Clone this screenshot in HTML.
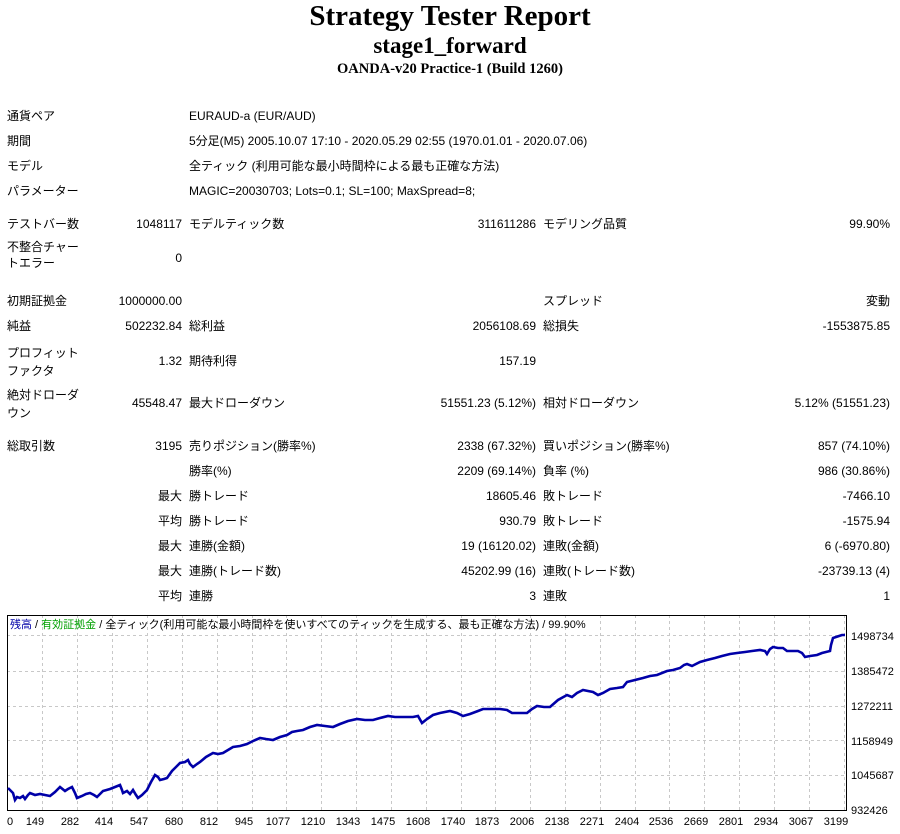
<!DOCTYPE html>
<html><head><meta charset="utf-8"><style>
body{margin:0;width:900px;height:834px;background:#fff;position:relative;overflow:hidden;font-family:"Liberation Sans","Noto Sans CJK JP",sans-serif;font-size:12px;color:#000}
.t{position:absolute;white-space:nowrap;line-height:16px}
.r{text-align:right}
.h{position:absolute;left:0;width:900px;text-align:center;font-family:"Liberation Serif","Noto Serif CJK SC",serif;font-weight:bold}
</style></head><body>
<div class="h" style="top:-1px;font-size:29px;line-height:34px">Strategy Tester Report</div>
<div class="h" style="top:32px;font-size:23px;line-height:28px">stage1_forward</div>
<div class="h" style="top:61px;font-size:14.5px;line-height:17px">OANDA-v20 Practice-1 (Build 1260)</div>

<div class="t" style="left:7px;top:108px">通貨ペア</div><div class="t" style="left:189px;top:108px">EURAUD-a (EUR/AUD)</div>
<div class="t" style="left:7px;top:133px">期間</div><div class="t" style="left:189px;top:133px">5分足(M5) 2005.10.07 17:10 - 2020.05.29 02:55 (1970.01.01 - 2020.07.06)</div>
<div class="t" style="left:7px;top:158px">モデル</div><div class="t" style="left:189px;top:158px">全ティック (利用可能な最小時間枠による最も正確な方法)</div>
<div class="t" style="left:7px;top:183px">パラメーター</div><div class="t" style="left:189px;top:183px">MAGIC=20030703; Lots=0.1; SL=100; MaxSpread=8;</div>

<div class="t" style="left:7px;top:216px">テストバー数</div><div class="t r" style="right:718px;top:216px">1048117</div><div class="t" style="left:189px;top:216px">モデルティック数</div><div class="t r" style="right:364px;top:216px">311611286</div><div class="t" style="left:543px;top:216px">モデリング品質</div><div class="t r" style="right:10px;top:216px">99.90%</div>
<div class="t" style="left:7px;top:239px">不整合チャー<br>トエラー</div><div class="t r" style="right:718px;top:250px">0</div>

<div class="t" style="left:7px;top:293px">初期証拠金</div><div class="t r" style="right:718px;top:293px">1000000.00</div><div class="t" style="left:543px;top:293px">スプレッド</div><div class="t r" style="right:10px;top:293px">変動</div>
<div class="t" style="left:7px;top:318px">純益</div><div class="t r" style="right:718px;top:318px">502232.84</div><div class="t" style="left:189px;top:318px">総利益</div><div class="t r" style="right:364px;top:318px">2056108.69</div><div class="t" style="left:543px;top:318px">総損失</div><div class="t r" style="right:10px;top:318px">-1553875.85</div>
<div class="t" style="left:7px;top:344px;line-height:18px">プロフィット<br>ファクタ</div><div class="t r" style="right:718px;top:353px">1.32</div><div class="t" style="left:189px;top:353px">期待利得</div><div class="t r" style="right:364px;top:353px">157.19</div>
<div class="t" style="left:7px;top:386px;line-height:18px">絶対ドローダ<br>ウン</div><div class="t r" style="right:718px;top:395px">45548.47</div><div class="t" style="left:189px;top:395px">最大ドローダウン</div><div class="t r" style="right:364px;top:395px">51551.23 (5.12%)</div><div class="t" style="left:543px;top:395px">相対ドローダウン</div><div class="t r" style="right:10px;top:395px">5.12% (51551.23)</div>

<div class="t" style="left:7px;top:438px">総取引数</div><div class="t r" style="right:718px;top:438px">3195</div><div class="t" style="left:189px;top:438px">売りポジション(勝率%)</div><div class="t r" style="right:364px;top:438px">2338 (67.32%)</div><div class="t" style="left:543px;top:438px">買いポジション(勝率%)</div><div class="t r" style="right:10px;top:438px">857 (74.10%)</div>
<div class="t" style="left:189px;top:463px">勝率(%)</div><div class="t r" style="right:364px;top:463px">2209 (69.14%)</div><div class="t" style="left:543px;top:463px">負率 (%)</div><div class="t r" style="right:10px;top:463px">986 (30.86%)</div>
<div class="t r" style="right:718px;top:488px">最大</div><div class="t" style="left:189px;top:488px">勝トレード</div><div class="t r" style="right:364px;top:488px">18605.46</div><div class="t" style="left:543px;top:488px">敗トレード</div><div class="t r" style="right:10px;top:488px">-7466.10</div>
<div class="t r" style="right:718px;top:513px">平均</div><div class="t" style="left:189px;top:513px">勝トレード</div><div class="t r" style="right:364px;top:513px">930.79</div><div class="t" style="left:543px;top:513px">敗トレード</div><div class="t r" style="right:10px;top:513px">-1575.94</div>
<div class="t r" style="right:718px;top:538px">最大</div><div class="t" style="left:189px;top:538px">連勝(金額)</div><div class="t r" style="right:364px;top:538px">19 (16120.02)</div><div class="t" style="left:543px;top:538px">連敗(金額)</div><div class="t r" style="right:10px;top:538px">6 (-6970.80)</div>
<div class="t r" style="right:718px;top:563px">最大</div><div class="t" style="left:189px;top:563px">連勝(トレード数)</div><div class="t r" style="right:364px;top:563px">45202.99 (16)</div><div class="t" style="left:543px;top:563px">連敗(トレード数)</div><div class="t r" style="right:10px;top:563px">-23739.13 (4)</div>
<div class="t r" style="right:718px;top:588px">平均</div><div class="t" style="left:189px;top:588px">連勝</div><div class="t r" style="right:364px;top:588px">3</div><div class="t" style="left:543px;top:588px">連敗</div><div class="t r" style="right:10px;top:588px">1</div>

<svg style="position:absolute;left:0;top:0" width="900" height="834" font-family="Liberation Sans, Noto Sans CJK JP, sans-serif" font-size="11">
<g stroke="#c8c8c8" stroke-dasharray="3,3" stroke-width="1">
<line x1="7" y1="635.5" x2="847" y2="635.5"/><line x1="7" y1="671.5" x2="847" y2="671.5"/><line x1="7" y1="706.5" x2="847" y2="706.5"/><line x1="7" y1="740.5" x2="847" y2="740.5"/><line x1="7" y1="775.5" x2="847" y2="775.5"/>
<line x1="42.5" y1="615" x2="42.5" y2="811"/><line x1="77.5" y1="615" x2="77.5" y2="811"/><line x1="112.5" y1="615" x2="112.5" y2="811"/><line x1="147.5" y1="615" x2="147.5" y2="811"/><line x1="182.5" y1="615" x2="182.5" y2="811"/><line x1="217.5" y1="615" x2="217.5" y2="811"/><line x1="252.5" y1="615" x2="252.5" y2="811"/><line x1="286.5" y1="615" x2="286.5" y2="811"/><line x1="321.5" y1="615" x2="321.5" y2="811"/><line x1="356.5" y1="615" x2="356.5" y2="811"/><line x1="391.5" y1="615" x2="391.5" y2="811"/><line x1="426.5" y1="615" x2="426.5" y2="811"/><line x1="461.5" y1="615" x2="461.5" y2="811"/><line x1="495.5" y1="615" x2="495.5" y2="811"/><line x1="530.5" y1="615" x2="530.5" y2="811"/><line x1="565.5" y1="615" x2="565.5" y2="811"/><line x1="600.5" y1="615" x2="600.5" y2="811"/><line x1="635.5" y1="615" x2="635.5" y2="811"/><line x1="669.5" y1="615" x2="669.5" y2="811"/><line x1="704.5" y1="615" x2="704.5" y2="811"/><line x1="739.5" y1="615" x2="739.5" y2="811"/><line x1="774.5" y1="615" x2="774.5" y2="811"/><line x1="809.5" y1="615" x2="809.5" y2="811"/><line x1="844.5" y1="615" x2="844.5" y2="811"/>
</g>
<rect x="7.5" y="615.5" width="839" height="195" fill="none" stroke="#000" stroke-width="1"/>
<polyline fill="none" stroke="#0000a8" stroke-width="2.6" points="8,788 13,793 15,800 17,797 20,798 23,796 25,799 28,795 30,793 35,795 40,794 45,795 50,796 55,792 60,787 65,791 68,789 72,787 75,793 77,798 82,796 86,794 90,793 94,795 97,797 100,794 103,791 110,789 115,787 120,785 122,790 123,793 127,791 130,794 133,790 136,795 138,798 142,795 147,790 151,782 155,775 158,777 160,780 164,779 167,778 172,771 176,767 180,763 185,762 188,760 190,764 193,767 197,764 200,762 206,757 213,753 218,754 223,753 228,750 233,747 240,746 247,744 253,741 260,738 266,739 273,740 280,737 287,735 292,732 297,731 303,730 310,727 317,725 325,726 333,727 340,724 348,721 357,719 365,720 373,720 380,718 388,716 395,717 405,717 413,717 418,716 422,723 427,719 433,715 440,713 450,711 457,713 463,716 470,714 478,711 483,709 490,709 500,709 507,710 512,713 520,713 527,713 532,709 537,706 544,707 550,707 558,700 567,695 572,697 577,693 583,690 588,691 593,692 598,695 603,693 610,689 617,688 623,687 627,682 635,680 643,678 650,676 657,675 667,671 673,670 680,668 684,665 687,664 692,666 700,662 707,660 715,658 722,656 730,654 737,653 745,652 752,651 760,650 765,651 767,654 770,649 773,647 778,648 783,648 787,651 792,651 798,651 802,653 805,657 810,656 817,655 822,653 830,651 831,645 833,638 836,637 839,636 842,635 845,635"/>
<text x="10" y="628"><tspan fill="#0000a8">残高</tspan><tspan> / </tspan><tspan fill="#00a000">有効証拠金</tspan><tspan> / 全ティック(利用可能な最小時間枠を使いすべてのティックを生成する、最も正確な方法) / 99.90%</tspan></text>
<g text-anchor="start">
<text x="851" y="640">1498734</text><text x="851" y="675">1385472</text><text x="851" y="710">1272211</text><text x="851" y="745">1158949</text><text x="851" y="779">1045687</text><text x="851" y="814">932426</text>
</g>
<g text-anchor="middle">
<text x="10" y="825">0</text><text x="35" y="825">149</text><text x="70" y="825">282</text><text x="104" y="825">414</text><text x="139" y="825">547</text><text x="174" y="825">680</text><text x="209" y="825">812</text><text x="244" y="825">945</text><text x="278" y="825">1077</text><text x="313" y="825">1210</text><text x="348" y="825">1343</text><text x="383" y="825">1475</text><text x="418" y="825">1608</text><text x="453" y="825">1740</text><text x="487" y="825">1873</text><text x="522" y="825">2006</text><text x="557" y="825">2138</text><text x="592" y="825">2271</text><text x="627" y="825">2404</text><text x="661" y="825">2536</text><text x="696" y="825">2669</text><text x="731" y="825">2801</text><text x="766" y="825">2934</text><text x="801" y="825">3067</text><text x="836" y="825">3199</text>
</g>
</svg>
</body></html>
